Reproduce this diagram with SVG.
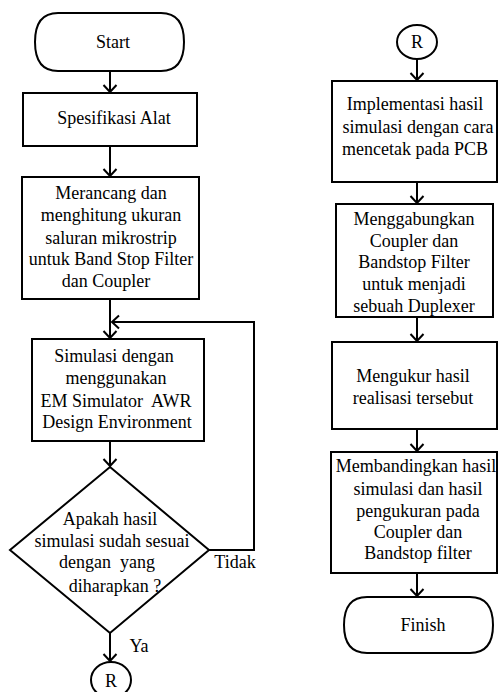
<svg xmlns="http://www.w3.org/2000/svg" width="498" height="692" viewBox="0 0 498 692">
<defs>
<marker id="arr" markerUnits="userSpaceOnUse" markerWidth="16" markerHeight="16" viewBox="-10 -8 12 16" refX="0" refY="0" orient="auto">
<path d="M -7,-6.5 L 0,0 L -7,6.5" fill="none" stroke="#000" stroke-width="2"/>
</marker>
</defs>
<style>
.s{fill:#fff;stroke:#000;stroke-width:2}
.c{fill:none;stroke:#000;stroke-width:2}
text{font-family:"Liberation Serif","Times New Roman",serif;font-size:18px;fill:#000;text-anchor:middle;white-space:pre}
</style>
<rect width="498" height="692" fill="#fff"/>
<g id="start">
<path class="s" d="M 58,13 L 161,13 C 180,13 184,28 184,42 C 184,56 180,71 161,71 L 58,71 C 39,71 35,56 35,42 C 35,28 39,13 58,13 Z"/>
<text x="113" y="48">Start</text>
</g>
<g id="spesifikasi">
<rect class="s" x="23" y="93" width="174" height="53"/>
<text x="114" y="124">Spesifikasi Alat</text>
</g>
<g id="merancang">
<rect class="s" x="22" y="177" width="177" height="122"/>
<text x="111" y="199">Merancang dan</text>
<text x="111" y="221">menghitung ukuran</text>
<text x="111" y="244">saluran mikrostrip</text>
<text x="111" y="265">untuk Band Stop Filter</text>
<text x="106" y="287">dan Coupler</text>
</g>
<g id="simulasi">
<rect class="s" x="32" y="339" width="172" height="102"/>
<text x="114" y="362">Simulasi dengan</text>
<text x="116" y="384">menggunakan</text>
<text x="116" y="407" xml:space="preserve">EM Simulator  AWR</text>
<text x="117" y="428">Design Environment</text>
</g>
<g id="keputusan">
<path class="s" d="M 110,467 L 209,550 L 110,633 L 10,550 Z"/>
<text x="110" y="525">Apakah hasil</text>
<text x="112" y="547">simulasi sudah sesuai</text>
<text x="107" y="568" xml:space="preserve">dengan  yang</text>
<text x="115" y="592">diharapkan ?</text>
</g>
<g id="r1">
<ellipse class="s" cx="111" cy="680" rx="20" ry="18"/>
<text x="111" y="687">R</text>
</g>
<g id="r2">
<ellipse class="s" cx="417" cy="42" rx="20" ry="17"/>
<text x="417" y="48">R</text>
</g>
<g id="implementasi">
<rect class="s" x="332" y="81" width="165" height="101"/>
<text x="415" y="110">Implementasi hasil</text>
<text x="418" y="133">simulasi dengan cara</text>
<text x="415" y="155">mencetak pada PCB</text>
</g>
<g id="menggabungkan">
<rect class="s" x="336" y="204" width="157" height="113"/>
<text x="414" y="225">Menggabungkan</text>
<text x="414" y="247">Coupler dan</text>
<text x="414" y="268">Bandstop Filter</text>
<text x="414" y="290">untuk menjadi</text>
<text x="414" y="312">sebuah Duplexer</text>
</g>
<g id="mengukur">
<rect class="s" x="332" y="342" width="165" height="87"/>
<text x="413" y="382">Mengukur hasil</text>
<text x="413" y="404">realisasi tersebut</text>
</g>
<g id="membandingkan">
<rect class="s" x="331" y="452" width="166" height="121"/>
<text x="416" y="472">Membandingkan hasil</text>
<text x="418" y="495">simulasi dan hasil</text>
<text x="418" y="517">pengukuran pada</text>
<text x="418" y="538">Coupler dan</text>
<text x="418" y="559">Bandstop filter</text>
</g>
<g id="finish">
<path class="s" d="M 367,597 L 470,597 C 489,597 493,612 493,625 C 493,638 489,653 470,653 L 367,653 C 348,653 344,638 344,625 C 344,612 348,597 367,597 Z"/>
<text x="423" y="631">Finish</text>
</g>
<g id="connectors">
<line class="c" x1="110" y1="71" x2="110" y2="92" marker-end="url(#arr)"/>
<line class="c" x1="110" y1="146" x2="110" y2="176" marker-end="url(#arr)"/>
<line class="c" x1="110" y1="299" x2="110" y2="338" marker-end="url(#arr)"/>
<polyline class="c" points="209,550 254,550 254,322 112,322" marker-end="url(#arr)"/>
<line class="c" x1="110" y1="441" x2="110" y2="466" marker-end="url(#arr)"/>
<line class="c" x1="110" y1="633" x2="110" y2="661" marker-end="url(#arr)"/>
<line class="c" x1="417" y1="59" x2="417" y2="80" marker-end="url(#arr)"/>
<line class="c" x1="417" y1="182" x2="417" y2="203" marker-end="url(#arr)"/>
<line class="c" x1="417" y1="317" x2="417" y2="341" marker-end="url(#arr)"/>
<line class="c" x1="417" y1="429" x2="417" y2="451" marker-end="url(#arr)"/>
<line class="c" x1="417" y1="573" x2="417" y2="596" marker-end="url(#arr)"/>
<text x="235" y="568">Tidak</text>
<text x="139" y="652">Ya</text>
</g>
</svg>
